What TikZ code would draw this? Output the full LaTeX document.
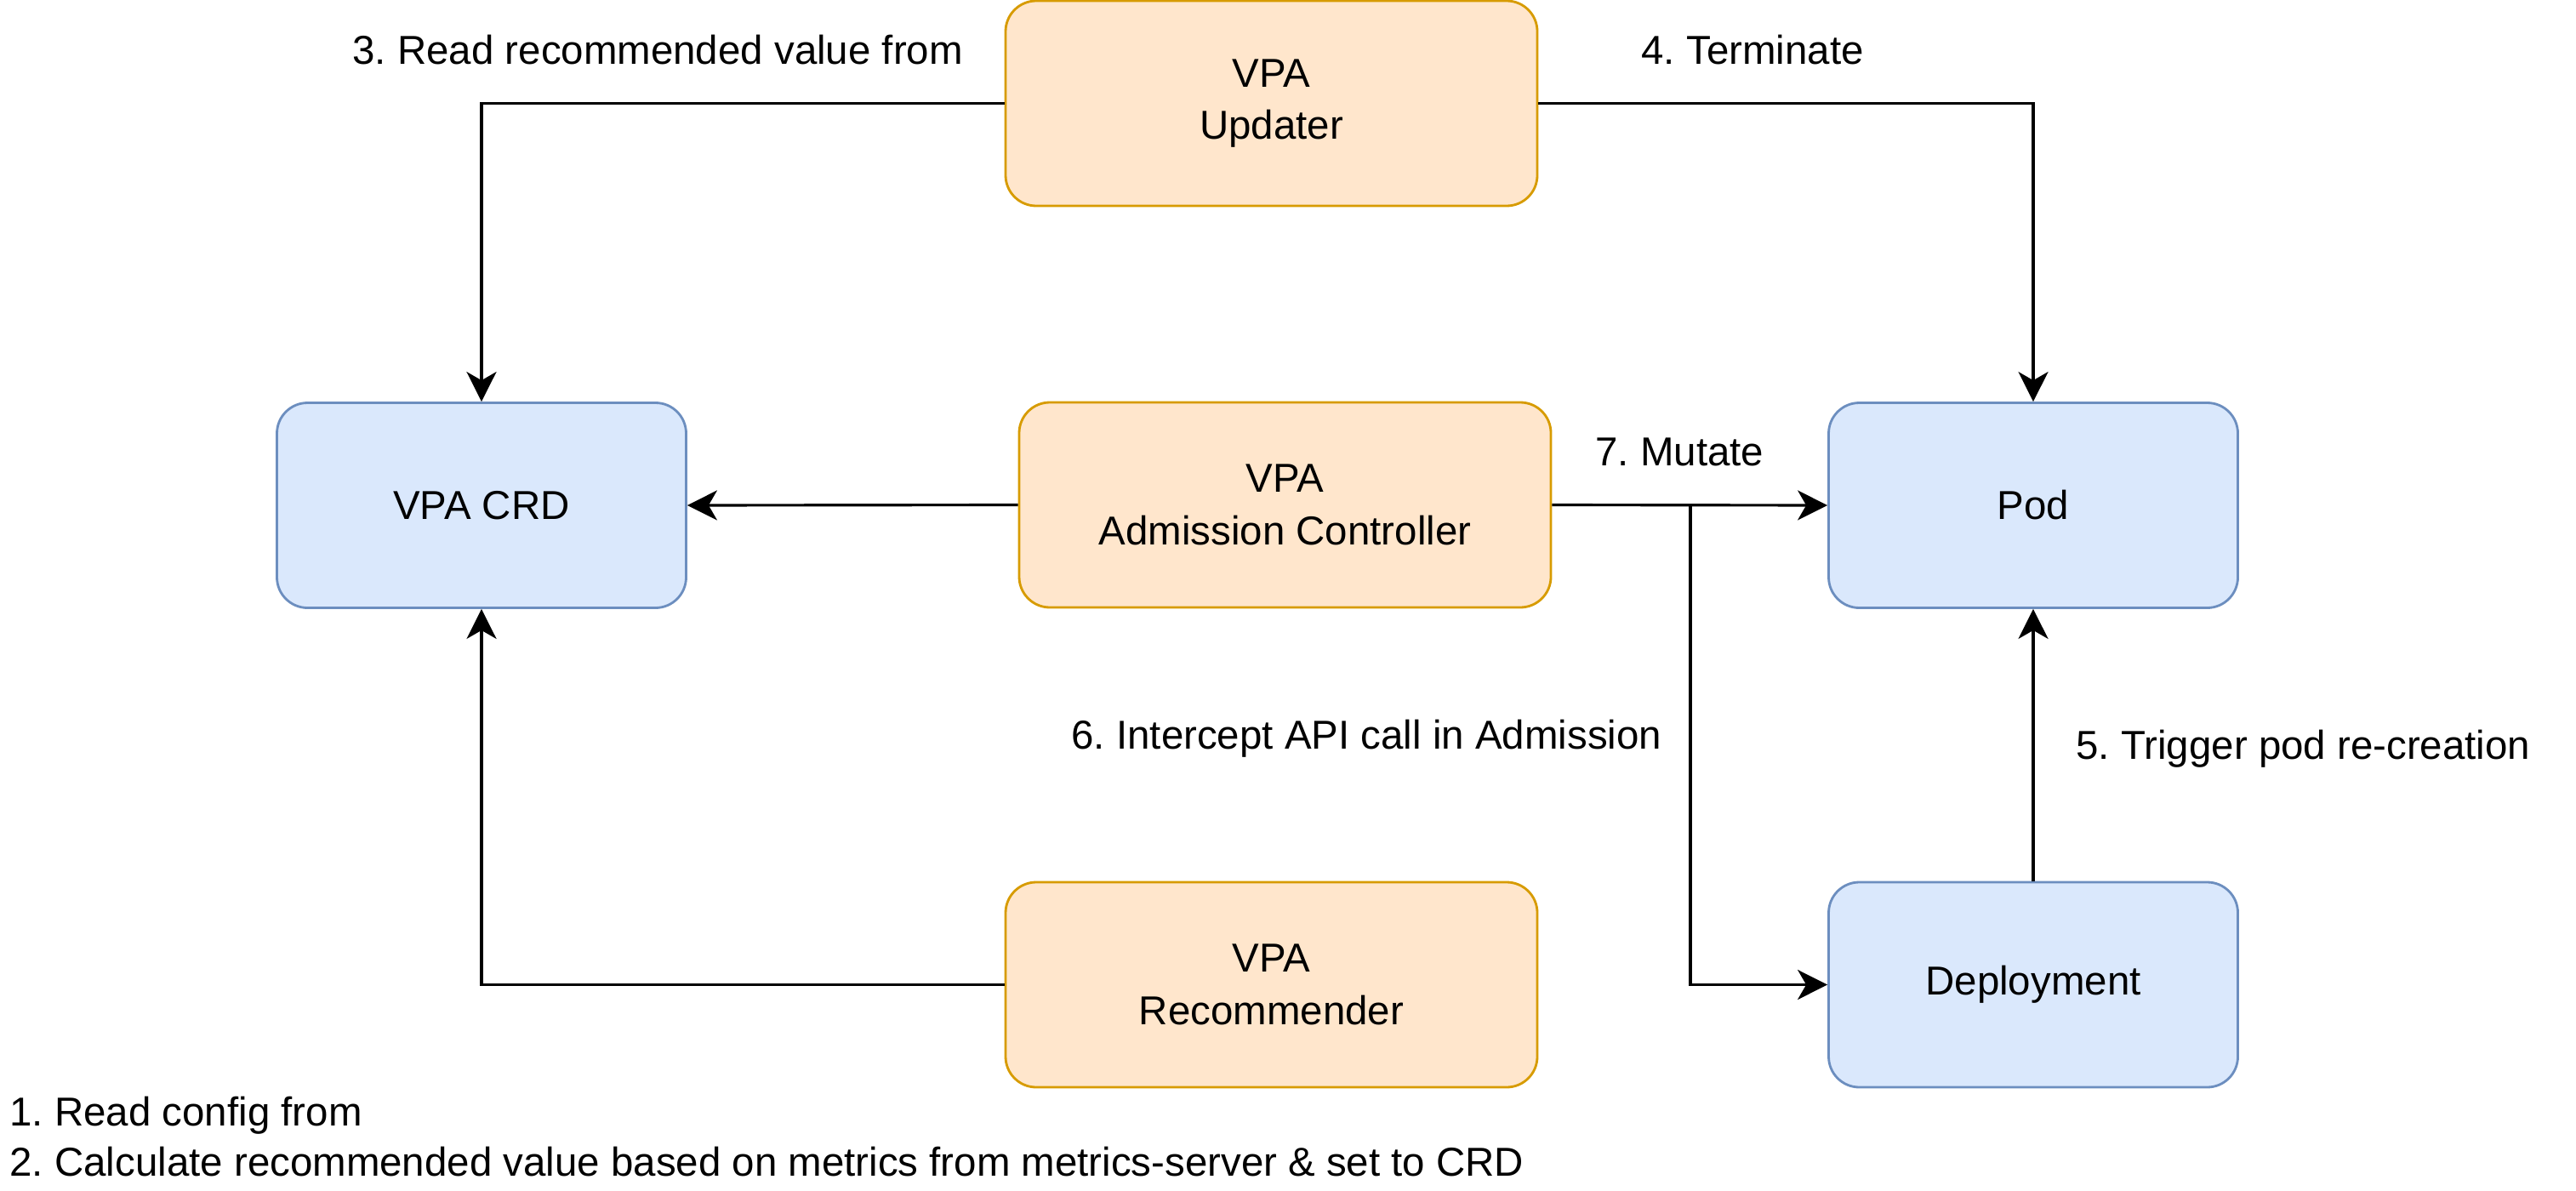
\documentclass[tikz,border=0pt]{standalone}
\usepackage{fontspec}
\setmainfont{Liberation Sans}
\usetikzlibrary{arrows.meta, positioning}

\definecolor{vpafill}{HTML}{FFE6CC}
\definecolor{vpadraw}{HTML}{D79B00}
\definecolor{kubefill}{HTML}{DAE8FC}
\definecolor{kubedraw}{HTML}{6C8EBF}

\begin{document}
\frenchspacing
\begin{tikzpicture}[font=\fontsize{13.5}{17.5}\selectfont,->,>={Stealth[length=3.5mm,width=3.5mm,inset=1mm]},line width=0.9pt]

	\tikzset{vpa st/.style={rectangle, rounded corners=3.6mm, draw=vpadraw,
			fill=vpafill, line width=0.8pt, align=center,
			minimum width=6.25cm, minimum height=2.41cm},
		kube st/.style={vpa st, draw=kubedraw, fill=kubefill,
			minimum width=4.81cm},
		lbl st/.style={inner sep=0pt, anchor=base west}}

	\useasboundingbox (0,0) rectangle (30.28,-14);

	\node[vpa st] (upd) at (14.945,-1.215) {VPA\\Updater};
	\node[vpa st] (adm) at (15.105,-5.935) {VPA\\Admission Controller};
	\node[vpa st] (rec) at (14.945,-11.575) {VPA\\Recommender};

	\node[kube st] (crd) at (5.66,-5.94) {VPA CRD};
	\node[kube st] (pod) at (23.90,-5.94) {Pod};
	\node[kube st] (dep) at (23.90,-11.575) {Deployment};

	\coordinate (fork) at (19.87,-5.94);

	\node[lbl st] (l3) at (4.13,-0.75) {3. Read recommended value from};
	\node[lbl st] (l4) at (19.28,-0.75) {4. Terminate};
	\node[lbl st] (l7) at (18.74,-5.47) {7. Mutate};
	\node[lbl st] (l6) at (12.58,-8.80) {6. Intercept API call in Admission};
	\node[lbl st] (l5) at (24.39,-8.92) {5. Trigger pod re-creation};
	\node[lbl st] (l1) at (0.10,-13.23) {1. Read config from};
	\node[lbl st] (l2) at (0.10,-13.82) {2. Calculate recommended value based on metrics from metrics-server \& set to CRD};

	\draw (upd.west) -| (crd.north);
	\draw (upd.east) -| (pod.north);
	\draw (adm.west) -- (crd.east);
	\draw (adm.east) -- (pod.west);
	\draw (fork) |- (dep.west);
	\draw (dep.north) -- (pod.south);
	\draw (rec.west) -| (crd.south);

\end{tikzpicture}
\end{document}
